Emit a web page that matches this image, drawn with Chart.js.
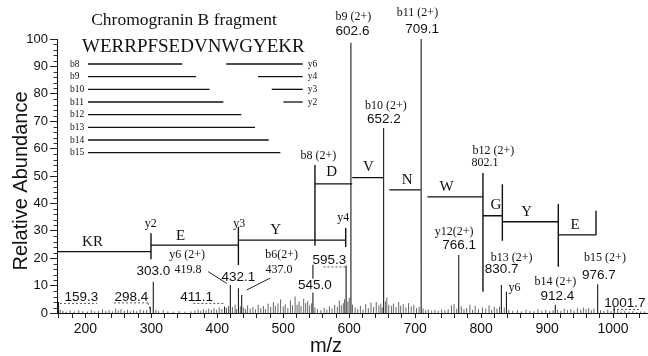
<!DOCTYPE html>
<html><head><meta charset="utf-8">
<script src="https://cdn.jsdelivr.net/npm/chart.js@4.4.1/dist/chart.umd.min.js"></script>
<style>html,body{margin:0;padding:0;background:#fff;}#wrap{width:648px;height:356px;}</style>
</head><body><div id="wrap"><canvas id="c" width="648" height="356"></canvas></div>
<script>
// ---------------- data ----------------
const labelledMz        = [159.3, 298.4, 303.0, 411.1, 419.8, 432.1, 437.0, 545.0, 595.3, 602.6, 652.2, 709.1, 766.1, 830.7, 838.4, 912.4, 976.7, 1001.7];
const labelledAbundance = [4.0,   2.3,   11.4,  2.4,   10.2,  9.0,   6.6,   17.6,  17.3,  98.6,  67.5,  100,   21.2,  10.2,  7.8,   3.0,   10.5,  2.5];

const noiseMz = [162,166,171,177,183,190,196,203,209,214,220,226,231,236,241,246,250,254,259,264,268,273,278,283,288,293,
  307,311,318,325,333,342,351,360,366,371,375,379,383,387,391,395,399,403,407,414,417,423,427,429,435,440,443,446,450,454,458,
  462,466,470,473,477,481,485,488,492,496,500,503,507,511,514,518,521,524,527,531,534,537,540,543,548,552,557,562,566,570,574,
  578,582,585,588,591,593,598,600,605,609,613,617,621,625,629,633,637,641,645,648,650,655,657,660,664,667,671,675,678,682,686,
  690,694,698,702,706,712,716,720,725,730,735,740,745,750,755,759,763,770,774,778,783,787,791,796,802,807,812,816,820,824,828,
  835,842,848,855,861,868,874,880,886,892,898,904,909,916,921,926,931,936,941,946,951,955,959,963,967,971,981,986,992,997,
  1007,1012,1018,1024,1030,1036,1042,1048];
const noiseAbundance = [1.2,0.8,0.5,0.9,0.6,1.0,0.7,0.5,1.1,0.6,0.8,1.3,0.7,1.0,0.6,1.6,0.9,1.4,0.8,1.2,0.6,1.0,0.7,1.3,0.9,1.1,
  1.2,0.7,1.0,0.6,0.5,0.7,0.5,0.6,0.9,1.2,0.8,1.4,1.0,1.6,1.1,1.8,1.2,2.0,1.5,1.8,2.6,2.2,3.0,1.5,2.4,2.0,1.4,2.8,1.6,2.2,1.3,
  3.0,1.8,2.5,1.4,3.4,2.2,4.0,2.6,3.5,5.0,2.4,3.2,1.8,4.6,2.8,6.0,3.0,4.2,2.5,5.2,3.6,4.4,2.8,3.5,2.0,1.4,1.0,1.8,1.2,2.4,1.6,
  3.0,2.2,4.5,2.8,3.6,5.0,4.2,5.5,3.0,2.0,1.4,2.6,1.2,3.2,1.8,3.8,2.2,4.0,2.8,3.4,2.0,4.2,5.6,3.0,2.6,3.4,2.2,4.0,2.6,3.2,2.0,
  3.6,2.4,3.0,1.8,2.2,1.6,1.0,1.2,0.9,1.1,0.8,1.2,1.0,1.4,2.8,3.2,1.6,2.4,1.4,1.8,3.0,1.2,2.6,1.4,2.0,1.6,2.8,1.2,2.2,1.6,2.4,
  2.0,1.2,0.8,1.0,0.6,1.2,0.8,0.6,1.4,0.8,1.2,0.7,1.0,1.2,0.8,1.6,1.0,1.4,0.8,1.8,1.2,2.0,1.4,1.8,1.0,1.6,1.0,0.8,1.2,0.7,
  1.0,0.6,0.8,0.5,0.7,0.4,0.6,0.5];

// y-ion ladder
const yIonNames      = ['y2', 'y3', 'y4'];
const yIonMz         = [299.5, 432.0, 594.7];
const yMarkerLow     = [19.6, 17.5, 24.1];
const yMarkerHigh    = [29.1, 31.5, 31.0];
const yResidues      = ['KR', 'E', 'Y'];
const ySegStart      = [157, 299.5, 432.0];
const ySegEnd        = [299.5, 432.0, 594.7];
const yResidueLevel  = [22.4, 24.8, 26.6];

// b-ion (2+) ladder
const bIonNames      = ['b8', 'b9', 'b10', 'b11', 'b12', 'b13', 'b14', 'b15'];
const bIonMz         = [548.1, 604.6, 652.2, 709.1, 802.8, 832.2, 917.0, 974.2];
const bMarkerLow     = [24.5, null, null, null, 7.8, 26.4, 16.9, 28.5];
const bMarkerHigh    = [54.0, null, null, null, 51.1, 47.0, 39.8, 37.3];
const bResidues      = ['D', 'V', 'N', 'W', 'G', 'Y', 'E'];
const bSegStart      = [548.1, 604.6, 660.8, 718.5, 802.8, 832.2, 917.0];
const bSegEnd        = [604.6, 652.2, 708.4, 802.8, 832.2, 917.0, 974.2];
const bResidueLevel  = [47.1, 49.4, 44.9, 42.4, 35.5, 33.3, 28.5];

// inset: sequence coverage
const sequence       = 'WERRPFSEDVNWGYEKR';
const bFragNames     = ['b8', 'b9', 'b10', 'b11', 'b12', 'b13', 'b14', 'b15'];
const bFragLengths   = [8, 9, 10, 11, 12, 13, 14, 15];
const yFragNames     = ['y6', 'y4', 'y3', 'y2'];
const yFragLengths   = [6, 4, 3, 2];

// axis ticks
const xTickStep = 20, xLabelStep = 100;
const yTickStep = 10, yMinorStep = 2;

// ---------------- layout (positions of text annotations, in data units) ----------------
const SANS = '"Liberation Sans", Arial, Helvetica, sans-serif';
const SERIF = '"Liberation Serif", "Times New Roman", Times, serif';
const textLayout = [
  // text, m/z, abundance, kind
  ['159.3', 194, 5.7, 'num'], ['298.4', 269.6, 5.7, 'num'], ['303.0', 303.0, 15.4, 'num'],
  ['411.1', 368.8, 5.9, 'num'], ['432.1', 432.0, 13.1, 'num'], ['545.0', 548.1, 10.0, 'numK'],
  ['595.3', 569.8, 19.3, 'num'], ['602.6', 605.0, 102.7, 'num'], ['652.2', 652.6, 70.7, 'num'],
  ['709.1', 710.7, 103.6, 'num'], ['766.1', 766.8, 24.8, 'num'], ['830.7', 831.2, 16.1, 'num'],
  ['912.4', 915.5, 6.1, 'num'], ['976.7', 978.4, 13.9, 'num'], ['1001.7', 1018.1, 3.5, 'num'],
  ['y6 (2+)', 354.4, 21.1, 'ion'], ['419.8', 355.6, 15.8, 'ion'], ['b6(2+)', 497.7, 21.2, 'ion'],
  ['437.0', 493.6, 15.7, 'ion'], ['b8 (2+)', 553.2, 57.4, 'ion'], ['b9 (2+)', 606.3, 108.1, 'ion'],
  ['b10 (2+)', 655.6, 75.5, 'ion'], ['b11 (2+)', 703.5, 109.7, 'ion'], ['b12 (2+)', 818.5, 59.2, 'ion'],
  ['802.1', 805.9, 54.7, 'ion'], ['y12(2+)', 759.2, 29.7, 'ion'], ['b13 (2+)', 846.4, 20.3, 'ion'],
  ['y6', 850.6, 9.0, 'ion'], ['b14 (2+)', 912.5, 11.3, 'ion'], ['b15 (2+)', 987.8, 20.3, 'ion'],
  ['y2', 299.2, 32.7, 'ion'], ['y3', 433.2, 32.7, 'ion'], ['y4', 591.0, 34.6, 'ion'],
  ['KR', 210.8, 26.0, 'res'], ['E', 344.2, 28.1, 'res'], ['Y', 488.7, 30.3, 'res'],
  ['D', 573.5, 51.4, 'res'], ['V', 629.0, 53.4, 'res'], ['N', 687.8, 48.5, 'res'], ['W', 747.8, 46.1, 'res'],
  ['G', 822.3, 39.4, 'res'], ['Y', 869.1, 37.0, 'res'], ['E', 942.3, 32.1, 'res']
];
const leaderLines = [
  [161.5, 3.5, 217.6, 3.5, true], [243.4, 3.7, 294.9, 3.7, true], [294.9, 3.7, 298.4, 1.5, true],
  [363.7, 3.5, 411.8, 3.5, true], [386.3, 15.1, 414.3, 10.8, false], [479.9, 12.7, 444.6, 8.4, false],
  [561, 16.8, 597, 16.8, true], [1000, 1.3, 1040, 1.3, true]
];

// ---------------- build datasets ----------------
function stick(mzs, vals) {
  const out = [];
  mzs.forEach((m, i) => { out.push({x: m, y: 0}, {x: m, y: vals[i]}, {x: m, y: null}); });
  return out;
}
function segs(x1s, x2s, y1s, y2s) {
  const out = [];
  x1s.forEach((m, i) => {
    if (y1s[i] == null || y2s[i] == null) return;
    out.push({x: m, y: y1s[i]}, {x: x2s[i], y: y2s[i]}, {x: x2s[i], y: null});
  });
  return out;
}
const base = {pointRadius: 0, spanGaps: false, fill: false, tension: 0};
const datasets = [
  Object.assign({}, base, {data: stick(noiseMz, noiseAbundance), borderColor: '#666', borderWidth: 1}),
  Object.assign({}, base, {data: stick(labelledMz, labelledAbundance), borderColor: '#1a1a1a', borderWidth: 1.1}),
  Object.assign({}, base, {data: segs(yIonMz, yIonMz, yMarkerLow, yMarkerHigh), borderColor: '#111', borderWidth: 1.4}),
  Object.assign({}, base, {data: segs(ySegStart, ySegEnd, yResidueLevel, yResidueLevel), borderColor: '#111', borderWidth: 1.3}),
  Object.assign({}, base, {data: segs(bIonMz, bIonMz, bMarkerLow, bMarkerHigh), borderColor: '#111', borderWidth: 1.4}),
  Object.assign({}, base, {data: segs(bSegStart, bSegEnd, bResidueLevel, bResidueLevel), borderColor: '#111', borderWidth: 1.3}),
  Object.assign({}, base, {data: segs(leaderLines.filter(l => !l[4]).map(l => l[0]), leaderLines.filter(l => !l[4]).map(l => l[2]),
      leaderLines.filter(l => !l[4]).map(l => l[1]), leaderLines.filter(l => !l[4]).map(l => l[3])), borderColor: '#222', borderWidth: 1}),
  Object.assign({}, base, {data: segs(leaderLines.filter(l => l[4]).map(l => l[0]), leaderLines.filter(l => l[4]).map(l => l[2]),
      leaderLines.filter(l => l[4]).map(l => l[1]), leaderLines.filter(l => l[4]).map(l => l[3])), borderColor: '#555', borderWidth: 1, borderDash: [2, 2]})
];

// ---------------- annotation plugin ----------------
const annot = {
  id: 'annot',
  afterDraw(chart) {
    const {ctx, chartArea: ca} = chart;
    const xs = chart.scales.x, ys = chart.scales.y;
    ctx.save();
    // minor y ticks
    ctx.strokeStyle = '#333'; ctx.lineWidth = 1;
    for (let v = 0; v <= 100; v += yMinorStep) {
      if (v % yTickStep === 0) continue;
      const py = Math.round(ys.getPixelForValue(v)) + 0.5;
      ctx.beginPath(); ctx.moveTo(ca.left - 3.5, py); ctx.lineTo(ca.left, py); ctx.stroke();
    }
    // axis titles
    ctx.fillStyle = '#111';
    ctx.font = '20px ' + SANS; ctx.textAlign = 'center'; ctx.textBaseline = 'middle';
    ctx.fillText('m/z', 326, 346);
    ctx.save(); ctx.translate(21, 181); ctx.rotate(-Math.PI / 2);
    ctx.fillText('Relative Abundance', 0, 0); ctx.restore();

    // text annotations
    const fonts = {num: '13.5px ' + SANS, numK: '13.5px ' + SANS, ion: '12px ' + SERIF, res: '15px ' + SERIF};
    textLayout.forEach(([t, m, v, kind]) => {
      const px = xs.getPixelForValue(m), py = ys.getPixelForValue(v);
      ctx.font = fonts[kind];
      if (kind === 'numK') {
        const w = ctx.measureText(t).width;
        ctx.fillStyle = '#fff'; ctx.fillRect(px - w / 2 - 1, py - 7, w + 2, 14);
      }
      ctx.fillStyle = '#111';
      ctx.fillText(t, px, py);
    });

    // inset: title, sequence, coverage lines
    ctx.font = '17.5px ' + SERIF;
    ctx.fillText('Chromogranin B fragment', 184, 20);
    ctx.font = '19px ' + SERIF; ctx.textAlign = 'left';
    const seqLeft = 82, seqW = ctx.measureText(sequence).width, seqRight = seqLeft + seqW;
    ctx.fillText(sequence, seqLeft, 47);
    const rowTop = 64, rowStep = 12.67;
    const prefixW = n => ctx.measureText(sequence.slice(0, n)).width;
    const suffixW = n => ctx.measureText(sequence.slice(sequence.length - n)).width;
    ctx.strokeStyle = '#111'; ctx.lineWidth = 1.3;
    const bEnds = bFragLengths.map(n => seqLeft + prefixW(n));
    const yStarts = yFragLengths.map(n => seqRight - suffixW(n) + 5);
    bEnds.forEach((e, i) => {
      const py = rowTop + i * rowStep;
      ctx.beginPath(); ctx.moveTo(seqLeft + 6, py); ctx.lineTo(e + 2, py); ctx.stroke();
    });
    yStarts.forEach((s, i) => {
      const py = rowTop + i * rowStep;
      ctx.beginPath(); ctx.moveTo(s, py); ctx.lineTo(seqRight - 2, py); ctx.stroke();
    });
    ctx.font = '9.5px ' + SERIF; ctx.fillStyle = '#111';
    bFragNames.forEach((n, i) => ctx.fillText(n, 70, rowTop + i * rowStep));
    yFragNames.forEach((n, i) => ctx.fillText(n, seqRight + 3, rowTop + i * rowStep));
    ctx.restore();
  }
};

new Chart(document.getElementById('c'), {
  type: 'line',
  data: {datasets},
  options: {
    responsive: false, animation: false, devicePixelRatio: 1,
    layout: {padding: {top: 39, right: 0, left: 0, bottom: 0}},
    plugins: {legend: {display: false}, tooltip: {enabled: false}, title: {display: false}},
    scales: {
      x: {
        type: 'linear', min: 157, max: 1053,
        ticks: {stepSize: xTickStep, includeBounds: false, autoSkip: false, maxRotation: 0, minRotation: 0,
                callback: v => (v % xLabelStep === 0 ? String(v) : ''),
                font: {family: SANS, size: 14}, color: '#111', padding: 3},
        grid: {display: true, drawOnChartArea: false, drawTicks: true, tickLength: 5, color: '#222'},
        border: {display: true, color: '#111', width: 1},
        afterFit: s => { s.height = 43; }
      },
      y: {
        min: 0, max: 100,
        ticks: {stepSize: yTickStep, font: {family: SANS, size: 13}, color: '#111', padding: 2},
        grid: {display: true, drawOnChartArea: false, drawTicks: true, tickLength: 7, color: '#222'},
        border: {display: true, color: '#111', width: 1},
        afterFit: s => { s.width = 57; }
      }
    }
  },
  plugins: [annot]
});
</script></body></html>
